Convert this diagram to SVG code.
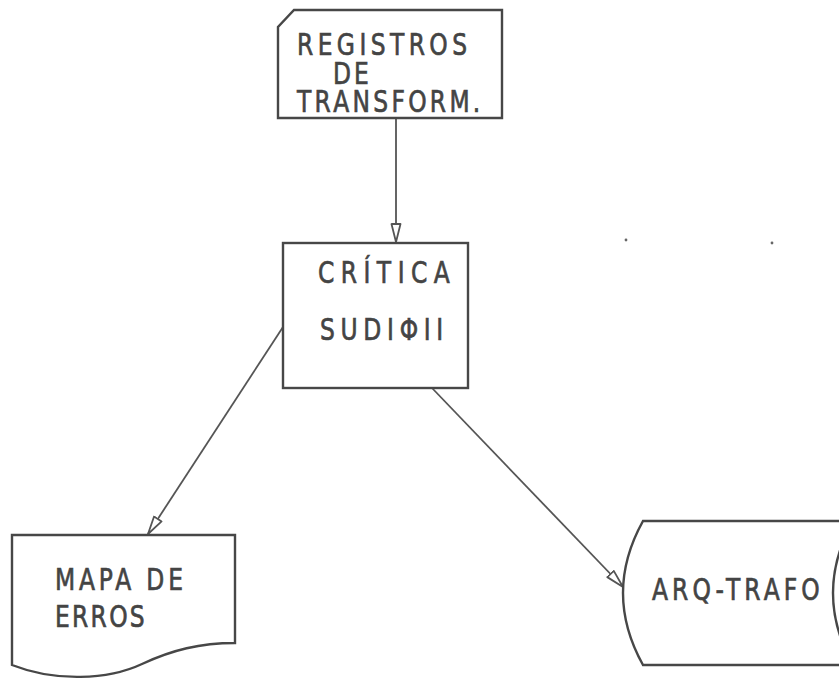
<svg xmlns="http://www.w3.org/2000/svg" width="839" height="679" viewBox="0 0 839 679">
  <style>
    .shape { fill: #ffffff; stroke: #474747; stroke-width: 2.4; stroke-linejoin: miter; }
    .edge { fill: none; stroke: #555555; stroke-width: 1.8; }
    .label { font-family: "DejaVu Sans", "Liberation Sans", sans-serif; font-size: 30px; fill: #444444; stroke: #444444; stroke-width: 0.7; }
  </style>
  <defs>
    <marker id="openArrow" viewBox="0 0 20 12" refX="19" refY="6" markerWidth="20" markerHeight="12" markerUnits="userSpaceOnUse" orient="auto">
      <path d="M1,1.5 L19,6 L1,10.5 Z" fill="#ffffff" stroke="#555555" stroke-width="1.8" stroke-linejoin="round"/>
    </marker>
  </defs>
  <rect width="839" height="679" fill="#ffffff"/>

  <!-- connectors -->
  <g id="connectors">
    <line class="edge" x1="396" y1="118" x2="396" y2="242" marker-end="url(#openArrow)"/>
    <line class="edge" x1="283" y1="327" x2="148" y2="534" marker-end="url(#openArrow)"/>
    <line class="edge" x1="432" y1="388" x2="623" y2="587" marker-end="url(#openArrow)"/>
  </g>

  <!-- punched card input; labels use a narrowed plotter-style face -->
  <g id="registros">
    <path class="shape" d="M294,10 L502,10 L502,118 L278,118 L278,27 Z"/>
    <text class="label" transform="translate(297,55) scale(0.78,1)" textLength="218" lengthAdjust="spacing">REGISTROS</text>
    <text class="label" transform="translate(333,84) scale(0.78,1)" textLength="46" lengthAdjust="spacing">DE</text>
    <text class="label" transform="translate(297,112) scale(0.78,1)" textLength="235" lengthAdjust="spacing">TRANSFORM.</text>
  </g>

  <!-- process -->
  <g id="critica">
    <rect class="shape" x="283" y="243" width="185" height="145"/>
    <text class="label" transform="translate(318,283) scale(0.78,1)" textLength="169" lengthAdjust="spacing">CRÍTICA</text>
    <text class="label" transform="translate(320,340) scale(0.78,1)" textLength="158" lengthAdjust="spacing">SUDIΦII</text>
  </g>

  <!-- printed report -->
  <g id="mapa">
    <path class="shape" d="M12,535 L235,535 L235,643 C200,643 172,650 142,664 C108,680 55,682 12,665 Z"/>
    <text class="label" transform="translate(55,590) scale(0.78,1)" textLength="164" lengthAdjust="spacing">MAPA DE</text>
    <text class="label" transform="translate(55,627) scale(0.78,1)" textLength="115" lengthAdjust="spacing">ERROS</text>
  </g>

  <!-- stored data file -->
  <g id="arqtrafo">
    <path class="shape" d="M643,521 L860,521 L860,665 L643,665 Q603,593 643,521 Z"/>
    <path class="shape" d="M853,521 Q813,593 853,665" fill="none"/>
    <text class="label" transform="translate(652,600) scale(0.78,1)" textLength="215" lengthAdjust="spacing">ARQ-TRAFO</text>
  </g>

  <!-- stray marks -->
  <circle cx="626" cy="240" r="1.4" fill="#666666"/>
  <circle cx="772" cy="243" r="1.4" fill="#666666"/>
</svg>
